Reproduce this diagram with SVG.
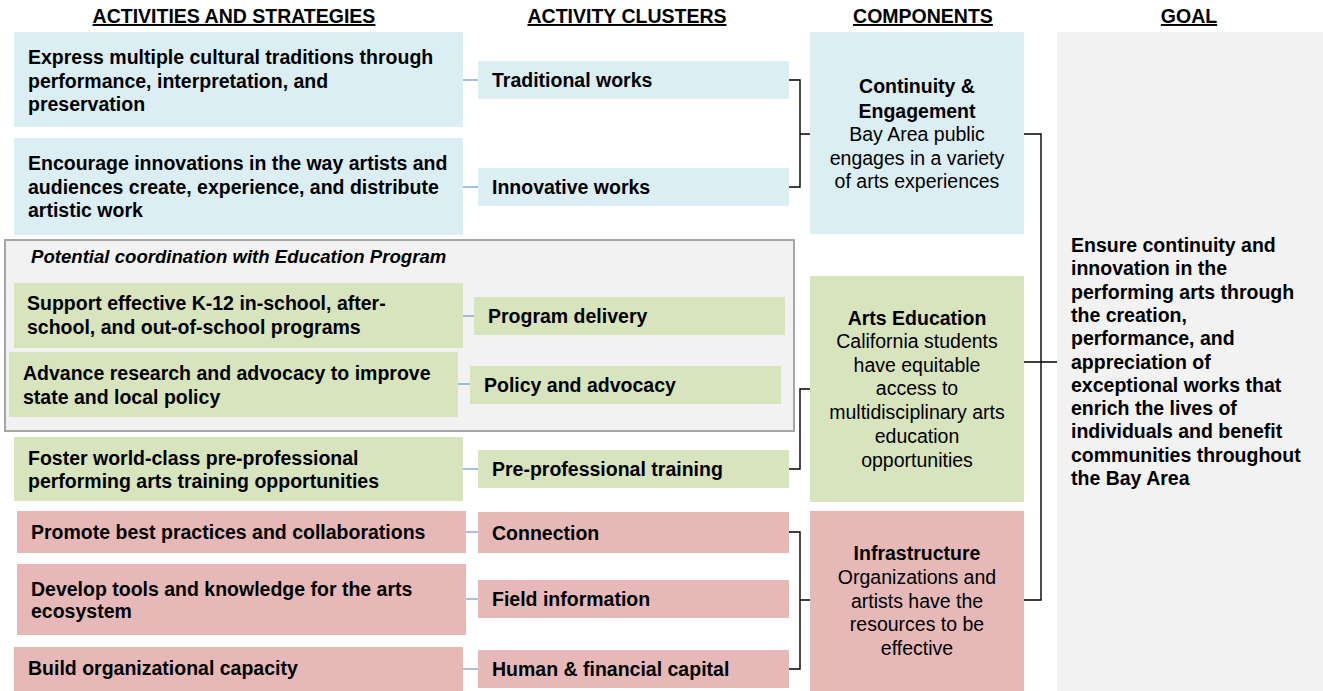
<svg xmlns="http://www.w3.org/2000/svg" width="1323" height="691" viewBox="0 0 1323 691">
<style>
text{font-family:"Liberation Sans",Arial,sans-serif;font-size:19.5px;fill:#000}
.b{font-weight:bold}
.hd{font-weight:bold;text-anchor:middle;text-decoration:underline}
.c{text-anchor:middle}
.blue{fill:#daeef3}
.green{fill:#d7e4bd}
.red{fill:#e6b9b8}
.goal{fill:#f2f2f2}
.lnk{stroke:#4f81bd;stroke-width:1.2;fill:none}
.br{stroke:#000;stroke-width:1.4;fill:none}
</style>
<rect width="1323" height="691" fill="#fff"/>
<g id="headers">
<text class="hd" x="234" y="23">ACTIVITIES AND STRATEGIES</text>
<text class="hd" x="627" y="23">ACTIVITY CLUSTERS</text>
<text class="hd" x="923" y="23">COMPONENTS</text>
<text class="hd" x="1189" y="23">GOAL</text>
</g>
<g id="edu-group">
<rect x="5" y="240" width="789" height="191" fill="#f2f2f2" stroke="#a6a6a6" stroke-width="2"/>
<text class="b" x="31" y="263" font-style="italic" style="font-size:18.6px">Potential coordination with Education Program</text>
</g>
<g id="a1"><rect class="blue" x="14" y="32" width="449" height="95"/>
<text class="b" x="28" y="64">Express multiple cultural traditions through</text>
<text class="b" x="28" y="88">performance, interpretation, and</text>
<text class="b" x="28" y="111">preservation</text></g>
<g id="a2"><rect class="blue" x="14" y="138" width="449" height="97"/>
<text class="b" x="28" y="170">Encourage innovations in the way artists and</text>
<text class="b" x="28" y="194">audiences create, experience, and distribute</text>
<text class="b" x="28" y="217">artistic work</text></g>
<g id="a3"><rect class="green" x="14" y="283" width="449" height="65"/>
<text class="b" x="27" y="310">Support effective K-12 in-school, after-</text>
<text class="b" x="27" y="334">school, and out-of-school programs</text></g>
<g id="a4"><rect class="green" x="9" y="352" width="449" height="65"/>
<text class="b" x="23" y="380">Advance research and advocacy to improve</text>
<text class="b" x="23" y="404">state and local policy</text></g>
<g id="a5"><rect class="green" x="14" y="437" width="449" height="64"/>
<text class="b" x="28" y="465">Foster world-class pre-professional</text>
<text class="b" x="28" y="488">performing arts training opportunities</text></g>
<g id="a6"><rect class="red" x="17" y="511" width="449" height="42"/>
<text class="b" x="31" y="539">Promote best practices and collaborations</text></g>
<g id="a7"><rect class="red" x="17" y="564" width="449" height="71"/>
<text class="b" x="31" y="596">Develop tools and knowledge for the arts</text>
<text class="b" x="31" y="618">ecosystem</text></g>
<g id="a8"><rect class="red" x="14" y="647" width="449" height="44"/>
<text class="b" x="28" y="675">Build organizational capacity</text></g>
<g id="c1"><rect class="blue" x="478" y="61" width="311" height="38"/>
<text class="b" x="492" y="87">Traditional works</text></g>
<g id="c2"><rect class="blue" x="478" y="168" width="311" height="38"/>
<text class="b" x="492" y="193.5">Innovative works</text></g>
<g id="c3"><rect class="green" x="474" y="297" width="311" height="38"/>
<text class="b" x="488" y="322.5">Program delivery</text></g>
<g id="c4"><rect class="green" x="470" y="366" width="311" height="38"/>
<text class="b" x="484" y="391.5">Policy and advocacy</text></g>
<g id="c5"><rect class="green" x="478" y="450" width="311" height="38"/>
<text class="b" x="492" y="476">Pre-professional training</text></g>
<g id="c6"><rect class="red" x="478" y="512" width="311" height="41"/>
<text class="b" x="492" y="539.5">Connection</text></g>
<g id="c7"><rect class="red" x="478" y="580" width="311" height="38"/>
<text class="b" x="492" y="606">Field information</text></g>
<g id="c8"><rect class="red" x="478" y="650" width="311" height="38"/>
<text class="b" x="492" y="676">Human &amp; financial capital</text></g>
<g id="k1"><rect class="blue" x="810" y="32" width="214" height="202"/>
<text class="b c" x="917" y="93">Continuity &amp;</text>
<text class="b c" x="917" y="118">Engagement</text>
<text class="c" x="917" y="141">Bay Area public</text>
<text class="c" x="917" y="165">engages in a variety</text>
<text class="c" x="917" y="188">of arts experiences</text></g>
<g id="k2"><rect class="green" x="810" y="276" width="214" height="226"/>
<text class="b c" x="917" y="325">Arts Education</text>
<text class="c" x="917" y="348">California students</text>
<text class="c" x="917" y="372">have equitable</text>
<text class="c" x="917" y="395">access to</text>
<text class="c" x="917" y="419">multidisciplinary arts</text>
<text class="c" x="917" y="443">education</text>
<text class="c" x="917" y="467">opportunities</text></g>
<g id="k3"><rect class="red" x="810" y="511" width="214" height="180"/>
<text class="b c" x="917" y="560">Infrastructure</text>
<text class="c" x="917" y="584">Organizations and</text>
<text class="c" x="917" y="608">artists have the</text>
<text class="c" x="917" y="631">resources to be</text>
<text class="c" x="917" y="655">effective</text></g>
<g id="goal"><rect class="goal" x="1057" y="32" width="266" height="659"/>
<text class="b" x="1071" y="252">Ensure continuity and</text>
<text class="b" x="1071" y="275.3">innovation in the</text>
<text class="b" x="1071" y="298.6">performing arts through</text>
<text class="b" x="1071" y="321.9">the creation,</text>
<text class="b" x="1071" y="345.2">performance, and</text>
<text class="b" x="1071" y="368.5">appreciation of</text>
<text class="b" x="1071" y="391.8">exceptional works that</text>
<text class="b" x="1071" y="415.1">enrich the lives of</text>
<text class="b" x="1071" y="438.4">individuals and benefit</text>
<text class="b" x="1071" y="461.7">communities throughout</text>
<text class="b" x="1071" y="485">the Bay Area</text></g>
<g id="connectors">
<path class="lnk" d="M463 80H478M463 187H478M463 316H474M458 384H470M463 469H478M466 532H478M466 599H478M463 669H478"/>
<path class="br" d="M789 80H800V187H789M800 134H810"/>
<path class="br" d="M789 469H800V389H810"/>
<path class="br" d="M789 532H800V669H789M800 600H810"/>
<path class="br" d="M1024 134H1041V600H1024M1024 362H1057"/>
</g>
</svg>
